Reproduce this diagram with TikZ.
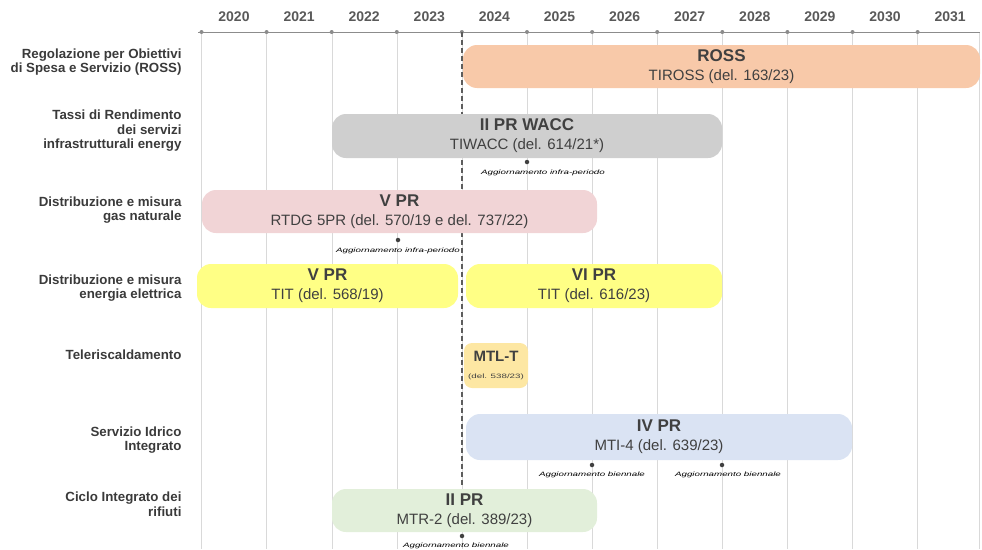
\documentclass[tikz,border=0pt]{standalone}
\usepackage{fontspec}
\setmainfont{Liberation Sans}
\newfontfamily\updfont{Liberation Sans}[FakeStretch=1.55]
\usetikzlibrary{positioning}
\definecolor{rosscol}{HTML}{F8C9A9}
\definecolor{wacccol}{HTML}{CFCFCF}
\definecolor{gascol}{HTML}{F1D4D6}
\definecolor{elecol}{HTML}{FFFF85}
\definecolor{mtlcol}{HTML}{FDE7A3}
\definecolor{idrcol}{HTML}{DAE3F3}
\definecolor{rifcol}{HTML}{E2EFDA}
\definecolor{txtcol}{HTML}{404040}
\definecolor{labcol}{HTML}{3A3A3A}
\definecolor{yrcol}{HTML}{595959}
\definecolor{gridcol}{HTML}{D9D9D9}
\definecolor{axiscol}{HTML}{8C8C8C}
\newcommand\ttl[1]{{\rmfamily\bfseries\fontsize{17}{19}\selectfont #1}}
\tikzset{
  bar/.style={rounded corners=14pt, inner sep=0pt, align=center, text=txtcol,
    font=\fontsize{15}{19}\selectfont},
  rowlab/.style={anchor=east, align=right, text=labcol,
    font=\bfseries\fontsize{13.3}{14.5}\selectfont},
  yearlab/.style={text=yrcol, font=\bfseries\fontsize{14}{15}\selectfont},
  updmark/.style={circle, fill=txtcol, inner sep=0pt, minimum size=4.5pt},
  updtext/.style={inner sep=0pt, text=black, font=\updfont\itshape\fontsize{6.3}{7}\selectfont}
}
\begin{document}
\begin{tikzpicture}[x=1pt, y=-1pt]
\useasboundingbox (0,0) rectangle (982,549);

\foreach \k in {0,...,11}
  \draw [gridcol] (201.5+65.1*\k,32) -- (201.5+65.1*\k,549);
\draw [gridcol] (979,32) -- (979,549);
\draw [axiscol, thick] (198,32) -- (980,32);
\foreach \k in {0,...,11}
  \fill [axiscol] (201.5+65.1*\k,32) circle (2);
\foreach \k in {0,...,11}
  \pgfmathtruncatemacro\yr{2020+\k}
  \node [yearlab] (y\yr) at (234+65.1*\k,17) {\yr};
\draw [txtcol!85, very thick, dash pattern=on 5pt off 3pt] (462,32) -- (462,485);

\node [rowlab] (l1) at (185,62) {Regolazione per Obiettivi\\di Spesa e Servizio (ROSS)};
\node [rowlab] (l2) at (185,131) {Tassi di Rendimento\\dei servizi\\infrastrutturali energy};
\node [rowlab] (l3) at (185,210) {Distribuzione e misura\\gas naturale};
\node [rowlab] (l4) at (185,288) {Distribuzione e misura\\energia elettrica};
\node [rowlab] (l5) at (185,355) {Teleriscaldamento};
\node [rowlab] (l6) at (185,440) {Servizio Idrico\\Integrato};
\node [rowlab] (l7) at (185,504) {Ciclo Integrato dei\\rifiuti};

\node [bar, fill=rosscol, minimum width=517pt, minimum height=43pt] (ross) at (721.5,66.5)
  {\ttl{ROSS}\\TIROSS (del. 163/23)};
\node [bar, fill=wacccol, minimum width=390pt, minimum height=44pt] (wacc) at (527,136)
  {\ttl{II PR WACC}\\TIWACC (del. 614/21*)};
\node [bar, fill=gascol, minimum width=395pt, minimum height=43pt] (gas) at (399.5,211.5)
  {\ttl{V PR}\\RTDG 5PR (del. 570/19 e del. 737/22)};
\node [bar, fill=elecol, minimum width=261pt, minimum height=44pt] (eleA) at (327.5,286)
  {\ttl{V PR}\\TIT (del. 568/19)};
\node [bar, fill=elecol, minimum width=256pt, minimum height=44pt] (eleB) at (594,286)
  {\ttl{VI PR}\\TIT (del. 616/23)};
\node [bar, fill=mtlcol, rounded corners=8pt, minimum width=64pt, minimum height=45pt,
  font=\updfont\fontsize{6.3}{17}\selectfont] (mtl) at (496,365.5)
  {{\rmfamily\bfseries\fontsize{15}{17}\selectfont MTL-T}\\(del. 538/23)};
\node [bar, fill=idrcol, minimum width=386pt, minimum height=46pt] (idr) at (659,437)
  {\ttl{IV PR}\\MTI-4 (del. 639/23)};
\node [bar, fill=rifcol, minimum width=265pt, minimum height=43pt] (rif) at (464.5,510.5)
  {\ttl{II PR}\\MTR-2 (del. 389/23)};

\node [updmark] (u1) at (527,162) {};
\node [updtext, below=5pt of u1, xshift=16pt] (t1) {Aggiornamento infra-periodo};
\node [updmark] (u2) at (398,240) {};
\node [updtext, below=5pt of u2] (t2) {Aggiornamento infra-periodo};
\node [updmark] (u3) at (592,465) {};
\node [updtext, below=4pt of u3] (t3) {Aggiornamento biennale};
\node [updmark] (u4) at (722,465) {};
\node [updtext, below=4pt of u4, xshift=6pt] (t4) {Aggiornamento biennale};
\node [updmark] (u5) at (462,536) {};
\node [updtext, below=4pt of u5, xshift=-6pt] (t5) {Aggiornamento biennale};
\end{tikzpicture}
\end{document}
